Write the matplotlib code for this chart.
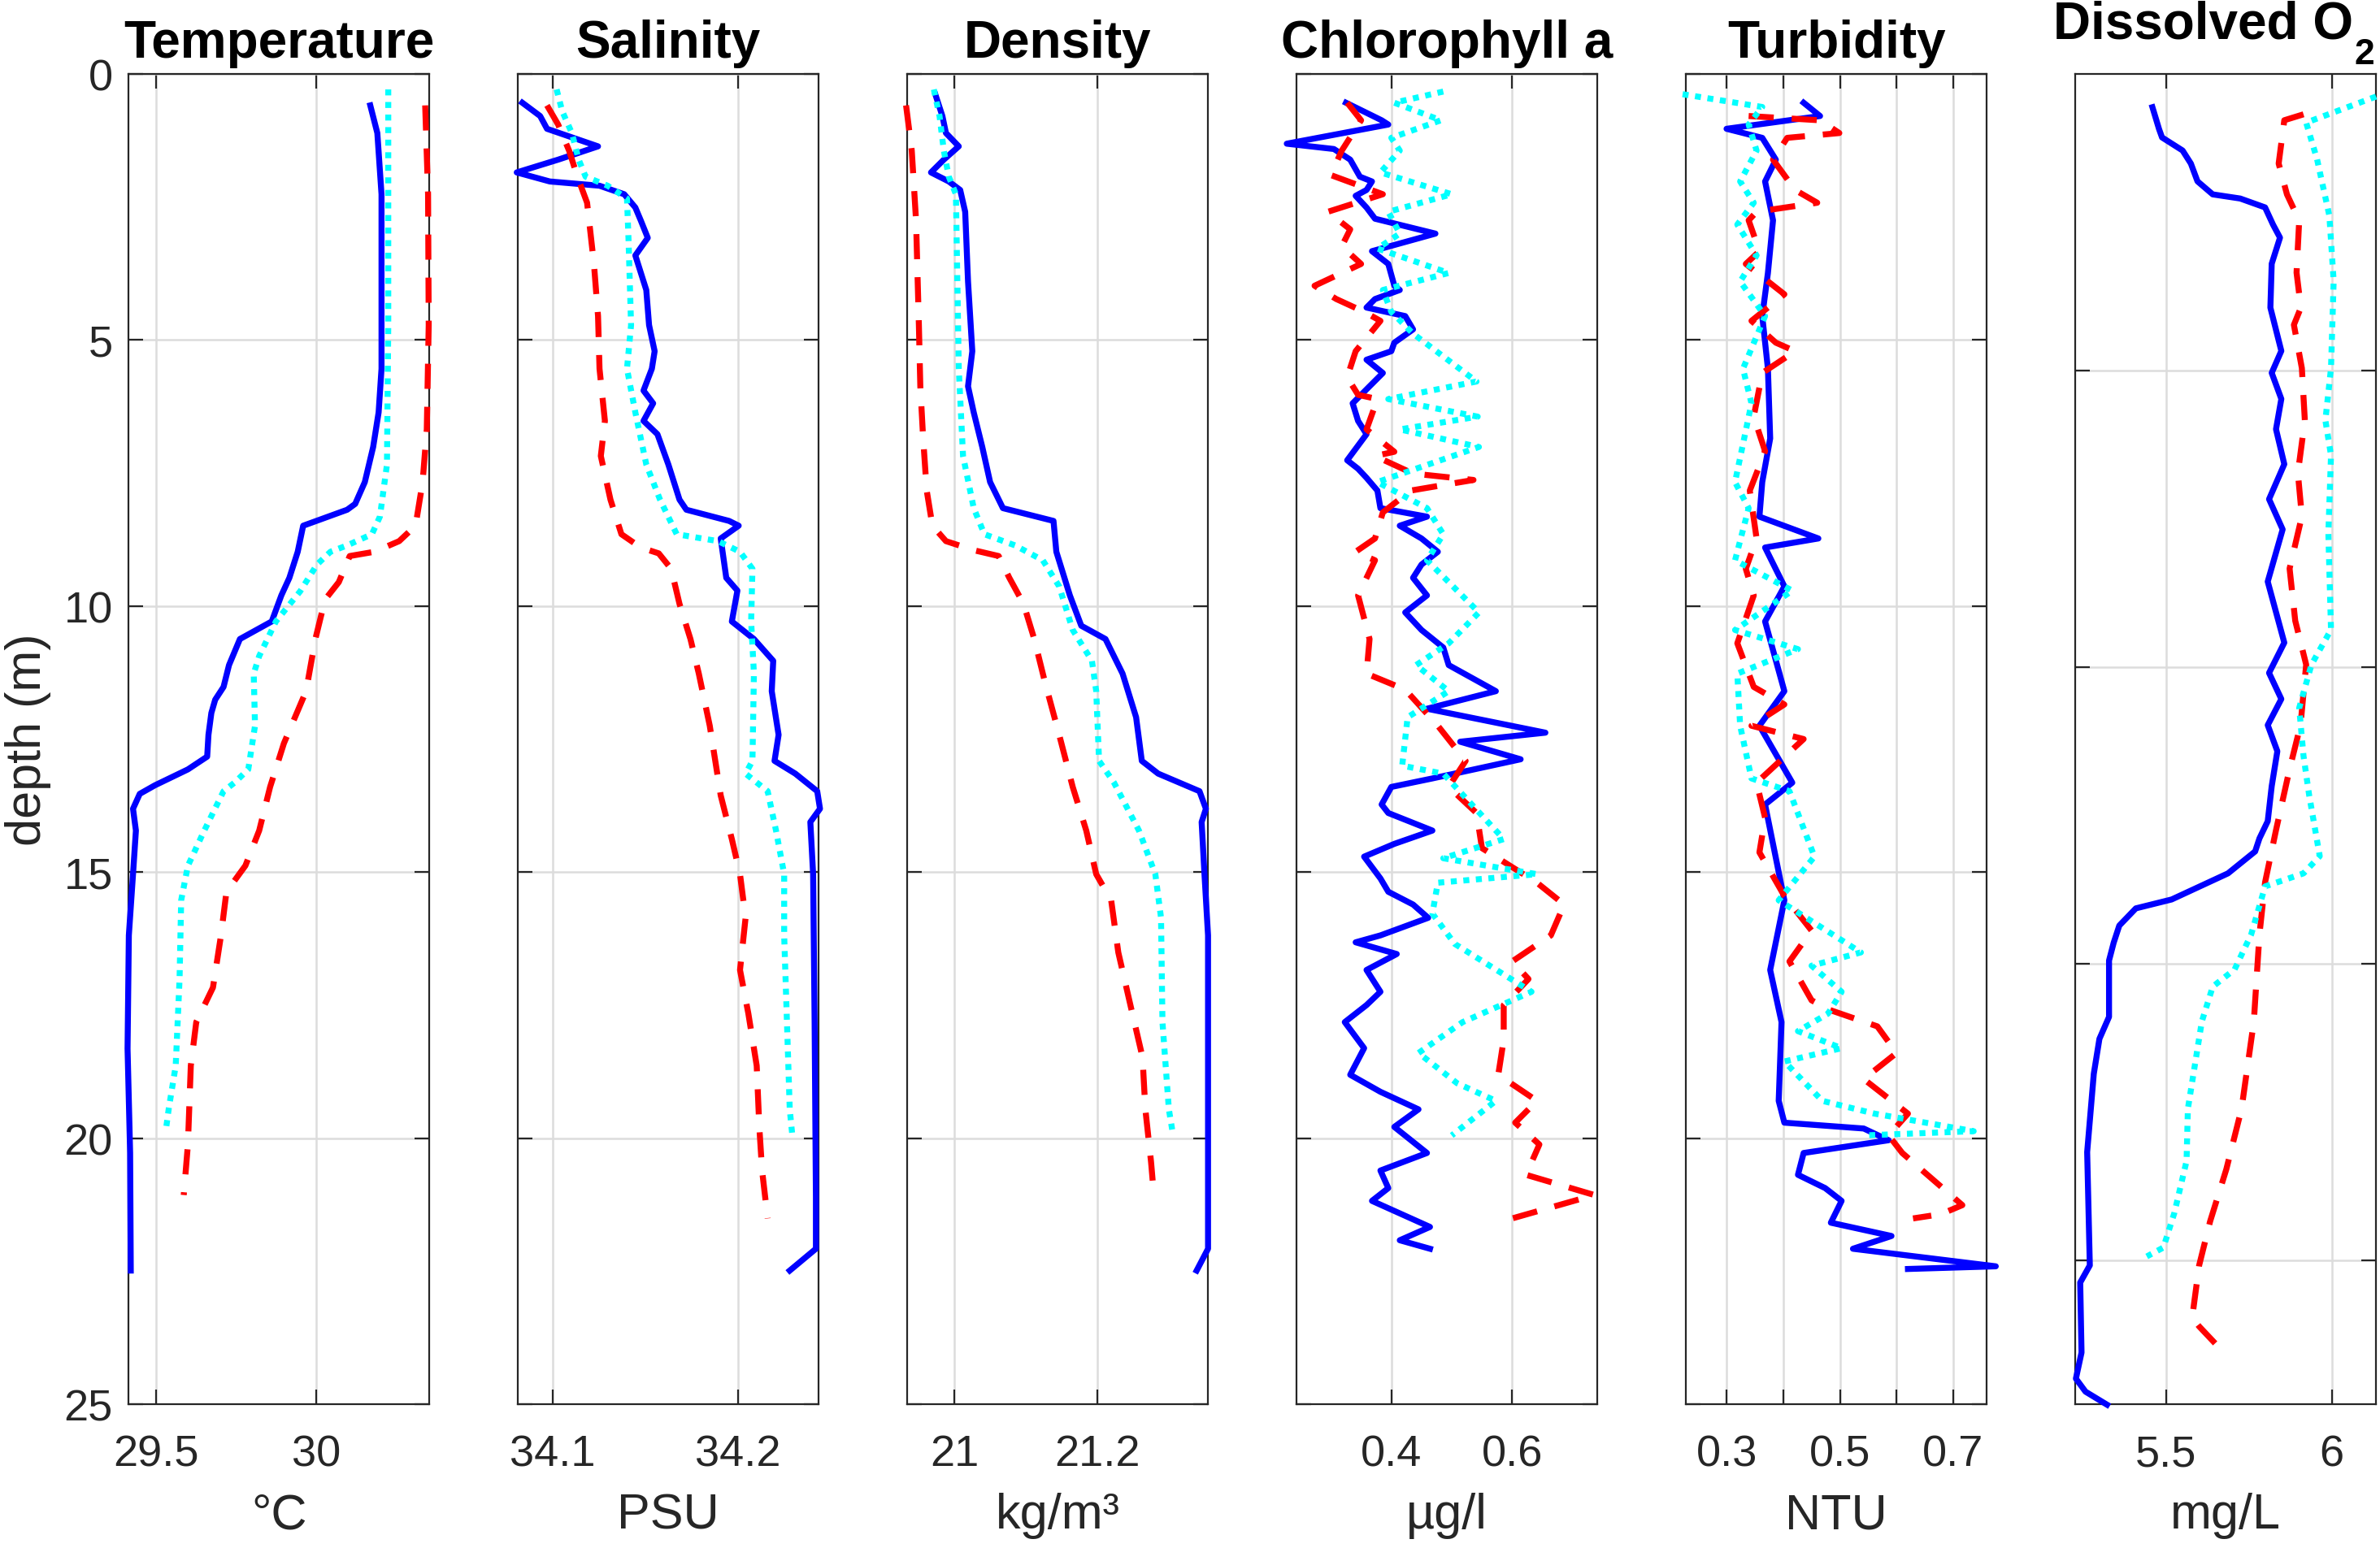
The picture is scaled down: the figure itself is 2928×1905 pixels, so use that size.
import numpy as np
import matplotlib
matplotlib.use("Agg")
import matplotlib.pyplot as plt
import matplotlib.transforms as mtransforms

plt.rcParams['font.family'] = ['Liberation Sans', 'DejaVu Sans']

# each series: (depth m, value) pairs, three casts per panel
temp_blue = [(0.59, 30.168), (1.11, 30.190), (2.26, 30.203), (4.72, 30.203), (5.54, 30.203), (6.36, 30.194),
             (7.01, 30.177), (7.67, 30.151), (8.08, 30.121), (8.19, 30.096), (8.49, 29.959), (8.98, 29.942),
             (9.47, 29.916), (9.80, 29.891), (10.29, 29.861), (10.62, 29.762), (11.11, 29.728), (11.52, 29.711),
             (11.76, 29.685), (12.01, 29.673), (12.42, 29.664), (12.83, 29.660), (13.07, 29.600), (13.37, 29.497),
             (13.53, 29.450), (13.81, 29.429), (14.22, 29.438), (15.04, 29.429), (16.19, 29.416), (18.32, 29.412),
             (20.28, 29.420), (22.49, 29.422)]
temp_red = [(0.59, 30.339), (2.26, 30.348), (4.72, 30.350), (6.68, 30.344), (7.67, 30.331), (8.49, 30.309),
            (8.78, 30.258), (8.98, 30.181), (9.06, 30.104), (9.55, 30.070), (9.88, 30.027), (10.62, 29.997),
            (11.60, 29.968), (12.58, 29.899), (13.40, 29.856), (14.22, 29.822), (14.88, 29.779), (15.37, 29.720),
            (16.19, 29.703), (17.17, 29.678), (17.82, 29.626), (18.64, 29.609), (20.12, 29.600), (21.07, 29.587)]
temp_cyan = [(0.29, 30.224), (1.44, 30.224), (4.72, 30.224), (7.34, 30.220), (8.32, 30.198), (8.65, 30.173),
             (8.86, 30.096), (8.98, 30.044), (9.22, 30.002), (9.72, 29.950), (10.29, 29.874), (10.94, 29.822),
             (11.27, 29.805), (12.25, 29.809), (13.07, 29.788), (13.32, 29.745), (13.48, 29.711), (14.22, 29.651),
             (14.88, 29.600), (15.53, 29.579), (17.01, 29.574), (18.64, 29.562), (19.46, 29.540), (19.82, 29.532)]

sal_blue = [(0.54, 34.0837), (0.79, 34.0933), (1.03, 34.0970), (1.36, 34.1245), (1.61, 34.1030), (1.85, 34.0807),
            (2.02, 34.0985), (2.10, 34.1253), (2.26, 34.1386), (2.51, 34.1446), (2.75, 34.1475), (3.08, 34.1513),
            (3.41, 34.1446), (4.06, 34.1505), (4.72, 34.1520), (5.21, 34.1550), (5.54, 34.1535), (5.95, 34.1490),
            (6.19, 34.1542), (6.52, 34.1490), (6.77, 34.1565), (7.34, 34.1624), (7.67, 34.1654), (8.00, 34.1684),
            (8.19, 34.1721), (8.40, 34.1951), (8.49, 34.2003), (8.73, 34.1906), (9.47, 34.1936), (9.71, 34.1996),
            (10.29, 34.1966), (10.62, 34.2085), (11.03, 34.2189), (11.60, 34.2181), (12.42, 34.2218),
            (12.91, 34.2196), (13.15, 34.2308), (13.48, 34.2426), (13.81, 34.2441), (14.06, 34.2389),
            (15.04, 34.2404), (17.82, 34.2412), (21.10, 34.2419), (22.08, 34.2419), (22.49, 34.2278)]
sal_red = [(0.59, 34.0970), (0.95, 34.1030), (1.44, 34.1089), (1.93, 34.1134), (2.42, 34.1186), (3.57, 34.1223),
           (4.55, 34.1245), (5.54, 34.1253), (6.52, 34.1282), (7.18, 34.1260), (8.00, 34.1312), (8.65, 34.1371),
           (8.90, 34.1475), (9.01, 34.1572), (9.30, 34.1639), (9.96, 34.1684), (10.62, 34.1743), (11.27, 34.1788),
           (12.25, 34.1847), (13.56, 34.1906), (14.38, 34.1966), (15.04, 34.2010), (15.86, 34.2040),
           (16.84, 34.2010), (17.66, 34.2055), (18.64, 34.2100), (19.79, 34.2114), (20.61, 34.2129), (21.51, 34.2159)]
sal_cyan = [(0.29, 34.1022), (0.70, 34.1052), (1.11, 34.1104), (1.61, 34.1141), (1.93, 34.1178), (2.10, 34.1297),
            (2.34, 34.1401), (3.08, 34.1409), (4.72, 34.1423), (5.54, 34.1401), (6.36, 34.1446), (7.34, 34.1505),
            (8.00, 34.1579), (8.65, 34.1669), (8.78, 34.1892), (8.98, 34.2010), (9.30, 34.2077), (10.29, 34.2070),
            (11.27, 34.2085), (12.91, 34.2077), (13.15, 34.2040), (13.48, 34.2159), (14.22, 34.2204),
            (15.04, 34.2248), (16.19, 34.2248), (17.82, 34.2263), (19.46, 34.2278), (19.99, 34.2293)]

dens_blue = [(0.38, 20.973), (0.79, 20.983), (1.11, 20.988), (1.36, 21.006), (1.61, 20.985), (1.85, 20.967),
             (2.02, 20.992), (2.18, 21.008), (2.59, 21.015), (3.90, 21.019), (5.21, 21.025), (5.87, 21.019),
             (6.36, 21.027), (7.01, 21.039), (7.67, 21.050), (8.16, 21.068), (8.40, 21.139), (8.98, 21.143),
             (9.80, 21.162), (10.37, 21.178), (10.62, 21.212), (11.27, 21.236), (12.09, 21.255), (12.91, 21.263),
             (13.15, 21.286), (13.48, 21.344), (13.81, 21.353), (14.06, 21.347), (15.04, 21.351), (16.19, 21.356),
             (19.46, 21.356), (22.08, 21.356), (22.49, 21.340)]
dens_red = [(0.59, 20.932), (1.44, 20.940), (2.75, 20.946), (4.72, 20.950), (5.87, 20.952), (6.85, 20.956),
            (7.83, 20.961), (8.49, 20.969), (8.78, 20.988), (8.95, 21.027), (9.06, 21.062), (9.47, 21.077),
            (9.96, 21.097), (10.62, 21.112), (11.43, 21.127), (12.42, 21.147), (13.40, 21.166), (14.22, 21.185),
            (15.04, 21.199), (15.53, 21.220), (16.51, 21.230), (17.50, 21.247), (18.48, 21.264), (19.46, 21.268),
            (20.45, 21.276), (21.07, 21.280)]
dens_cyan = [(0.29, 20.971), (0.79, 20.979), (1.44, 20.985), (1.93, 20.992), (2.26, 21.002), (3.90, 21.004),
             (5.54, 21.006), (7.18, 21.012), (8.16, 21.027), (8.65, 21.042), (8.86, 21.085), (9.14, 21.124),
             (9.63, 21.147), (10.45, 21.166), (11.03, 21.193), (11.60, 21.199), (12.91, 21.203), (13.32, 21.224),
             (14.22, 21.259), (15.04, 21.282), (15.86, 21.290), (17.82, 21.292), (19.46, 21.301), (19.95, 21.307)]

chl_blue = [(0.54, 0.325), (0.87, 0.384), (0.95, 0.395), (1.31, 0.227), (1.41, 0.305), (1.61, 0.332),
            (1.93, 0.348), (2.02, 0.368), (2.18, 0.359), (2.29, 0.341), (2.51, 0.359), (2.72, 0.373),
            (3.00, 0.473), (3.33, 0.368), (3.57, 0.395), (3.98, 0.405), (4.06, 0.414), (4.23, 0.373),
            (4.39, 0.359), (4.55, 0.423), (4.80, 0.436), (5.05, 0.405), (5.21, 0.400), (5.37, 0.359),
            (5.62, 0.386), (5.87, 0.364), (6.19, 0.336), (6.52, 0.345), (6.77, 0.359), (7.26, 0.327),
            (7.42, 0.345), (7.59, 0.359), (7.83, 0.377), (8.16, 0.382), (8.32, 0.459), (8.49, 0.414),
            (8.73, 0.450), (8.98, 0.477), (9.22, 0.450), (9.47, 0.436), (9.80, 0.459), (10.12, 0.423),
            (10.45, 0.450), (10.78, 0.486), (11.11, 0.495), (11.60, 0.573), (11.93, 0.459), (12.38, 0.655),
            (12.55, 0.514), (12.88, 0.614), (13.24, 0.468), (13.40, 0.400), (13.73, 0.384), (13.89, 0.395),
            (14.22, 0.468), (14.47, 0.405), (14.71, 0.355), (15.12, 0.382), (15.37, 0.395), (15.61, 0.436),
            (15.86, 0.461), (16.19, 0.382), (16.32, 0.341), (16.54, 0.409), (16.84, 0.359), (17.25, 0.382),
            (17.50, 0.359), (17.82, 0.323), (18.31, 0.355), (18.81, 0.332), (19.13, 0.382), (19.46, 0.445),
            (19.79, 0.405), (20.28, 0.459), (20.61, 0.382), (20.94, 0.395), (21.18, 0.368), (21.67, 0.464),
            (21.92, 0.414), (22.08, 0.464)]
chl_red = [(0.54, 0.327), (0.87, 0.350), (1.44, 0.318), (1.90, 0.300), (2.26, 0.386), (2.59, 0.295),
           (2.92, 0.332), (3.24, 0.318), (3.57, 0.350), (3.98, 0.273), (4.23, 0.309), (4.47, 0.355),
           (4.64, 0.382), (5.21, 0.341), (5.70, 0.327), (6.03, 0.345), (6.11, 0.377), (6.68, 0.359),
           (7.10, 0.405), (7.18, 0.373), (7.51, 0.436), (7.63, 0.536), (7.83, 0.432), (8.24, 0.386),
           (8.73, 0.373), (8.98, 0.341), (9.14, 0.373), (9.80, 0.345), (10.62, 0.364), (11.27, 0.359),
           (11.57, 0.423), (12.25, 0.477), (12.91, 0.523), (13.40, 0.495), (13.89, 0.541), (14.55, 0.550),
           (15.20, 0.641), (15.61, 0.686), (16.19, 0.664), (16.68, 0.600), (17.01, 0.627), (17.50, 0.586),
           (18.15, 0.586), (18.81, 0.577), (19.30, 0.641), (19.71, 0.605), (20.12, 0.645), (20.69, 0.623),
           (21.07, 0.736), (21.51, 0.600)]
chl_cyan = [(0.33, 0.486), (0.54, 0.405), (0.87, 0.482), (1.20, 0.400), (1.44, 0.414), (1.85, 0.382),
            (2.26, 0.500), (2.59, 0.395), (3.00, 0.414), (3.28, 0.377), (3.74, 0.495), (4.06, 0.386),
            (4.47, 0.400), (4.88, 0.436), (5.78, 0.541), (6.11, 0.395), (6.44, 0.543), (6.68, 0.414),
            (7.01, 0.545), (7.67, 0.377), (8.16, 0.459), (8.65, 0.486), (9.14, 0.459), (10.12, 0.545),
            (10.70, 0.495), (11.11, 0.441), (11.60, 0.495), (12.09, 0.427), (13.00, 0.418), (13.15, 0.486),
            (14.38, 0.586), (14.74, 0.486), (15.04, 0.641), (15.20, 0.477), (15.78, 0.468), (16.35, 0.505),
            (17.25, 0.632), (17.82, 0.518), (18.40, 0.445), (18.97, 0.509), (19.30, 0.573), (19.95, 0.500)]

turb_blue = [(0.54, 0.436), (0.79, 0.465), (1.03, 0.300), (1.20, 0.363), (1.61, 0.387), (2.02, 0.368),
             (2.75, 0.382), (3.74, 0.373), (4.55, 0.363), (5.54, 0.373), (6.85, 0.377), (7.67, 0.363),
             (8.32, 0.358), (8.73, 0.462), (8.90, 0.368), (9.63, 0.402), (10.29, 0.368), (11.60, 0.402),
             (12.25, 0.358), (13.32, 0.416), (13.73, 0.368), (15.53, 0.402), (16.84, 0.377), (17.82, 0.397),
             (19.30, 0.392), (19.71, 0.402), (19.82, 0.542), (20.04, 0.586), (20.28, 0.436), (20.69, 0.426),
             (20.94, 0.474), (21.18, 0.503), (21.59, 0.484), (21.84, 0.591), (22.08, 0.523), (22.41, 0.775),
             (22.46, 0.620)]
turb_red = [(0.79, 0.339), (0.87, 0.465), (1.11, 0.499), (1.20, 0.407), (1.61, 0.382), (2.18, 0.421),
            (2.42, 0.460), (2.59, 0.353), (2.75, 0.339), (3.33, 0.358), (3.57, 0.334), (4.14, 0.402),
            (4.64, 0.344), (5.05, 0.387), (5.21, 0.421), (5.62, 0.363), (6.44, 0.348), (7.09, 0.368),
            (7.83, 0.341), (8.73, 0.353), (9.30, 0.334), (9.80, 0.348), (10.70, 0.319), (11.52, 0.348),
            (11.85, 0.402), (12.25, 0.344), (12.50, 0.436), (13.32, 0.353), (13.98, 0.368), (14.63, 0.358),
            (15.45, 0.402), (16.10, 0.450), (16.68, 0.411), (17.41, 0.450), (17.58, 0.479), (17.90, 0.566),
            (18.40, 0.600), (18.89, 0.542), (19.54, 0.620), (19.95, 0.586), (20.28, 0.610), (20.77, 0.663),
            (21.26, 0.716), (21.43, 0.678), (21.51, 0.629)]
turb_cyan = [(0.38, 0.2225), (0.62, 0.363), (0.95, 0.339), (1.44, 0.353), (2.02, 0.324), (2.42, 0.348),
             (2.83, 0.319), (3.41, 0.353), (3.90, 0.324), (4.55, 0.368), (5.54, 0.329), (6.19, 0.344),
             (7.67, 0.315), (8.16, 0.339), (9.14, 0.315), (9.71, 0.416), (10.45, 0.315), (10.81, 0.426),
             (11.27, 0.319), (12.25, 0.324), (13.24, 0.344), (13.48, 0.411), (14.71, 0.455), (15.53, 0.392),
             (16.51, 0.537), (16.76, 0.450), (17.25, 0.503), (17.66, 0.479), (17.99, 0.426), (18.31, 0.503),
             (18.56, 0.402), (19.30, 0.469), (19.54, 0.561), (19.87, 0.736), (19.95, 0.542)]

# dissolved O2 panel has its own depth scale (ticks 5..20 sit lower)
do_blue = [(0.56, 5.459), (0.93, 5.479), (1.07, 5.488), (1.29, 5.550), (1.51, 5.575), (1.81, 5.595),
           (2.03, 5.641), (2.10, 5.724), (2.25, 5.799), (2.54, 5.823), (2.76, 5.844), (3.20, 5.819),
           (3.94, 5.815), (4.67, 5.848), (5.04, 5.819), (5.48, 5.848), (5.99, 5.832), (6.58, 5.857),
           (7.17, 5.811), (7.68, 5.852), (8.56, 5.807), (9.59, 5.857), (10.10, 5.811), (10.54, 5.848),
           (10.98, 5.807), (11.42, 5.836), (12.01, 5.819), (12.60, 5.807), (12.89, 5.782), (13.11, 5.769),
           (13.48, 5.687), (13.92, 5.517), (14.07, 5.409), (14.36, 5.359), (14.65, 5.342), (14.95, 5.328),
           (15.90, 5.328), (16.27, 5.299), (16.86, 5.282), (18.18, 5.262), (20.09, 5.270), (20.38, 5.241),
           (21.56, 5.245), (22.00, 5.228), (22.22, 5.257), (22.44, 5.322)]
do_red = [(0.68, 5.915), (0.78, 5.857), (1.51, 5.840), (2.03, 5.865), (2.47, 5.902), (3.35, 5.894),
          (3.94, 5.907), (4.23, 5.886), (4.96, 5.910), (5.84, 5.919), (6.73, 5.898), (7.46, 5.910),
          (8.34, 5.873), (9.22, 5.890), (9.96, 5.923), (10.98, 5.906), (11.72, 5.873), (12.75, 5.832),
          (13.63, 5.799), (14.51, 5.782), (15.98, 5.765), (17.45, 5.728), (18.47, 5.682), (19.35, 5.633),
          (20.09, 5.600), (20.97, 5.579), (21.12, 5.600), (21.41, 5.649)]
do_cyan = [(0.38, 6.134), (0.82, 5.923), (1.44, 5.956), (2.39, 5.993), (3.49, 6.006), (4.96, 5.998),
           (5.84, 5.981), (6.43, 5.998), (7.75, 5.990), (9.37, 5.998), (9.96, 5.939), (10.69, 5.902),
           (11.50, 5.915), (12.16, 5.932), (13.19, 5.964), (13.48, 5.915), (13.70, 5.799), (14.51, 5.757),
           (15.10, 5.707), (15.39, 5.641), (15.98, 5.608), (17.45, 5.566), (18.33, 5.562), (19.21, 5.525),
           (19.79, 5.492), (19.94, 5.442)]

titles = ['Temperature', 'Salinity', 'Density', 'Chlorophyll a', 'Turbidity', 'Dissolved O']
units = ['°C', 'PSU', 'kg/m³', 'µg/l', 'NTU', 'mg/L']
xlims = [(29.415, 30.352), (34.0813, 34.2434), (20.9336, 21.356), (0.2432, 0.741), (0.2283, 0.759), (5.226, 6.134)]
xticks = [[29.5, 30], [34.1, 34.2], [21, 21.2], [0.4, 0.6], [0.3, 0.4, 0.5, 0.6, 0.7], [5.5, 6]]
xticklabels = [['29.5', '30'], ['34.1', '34.2'], ['21', '21.2'], ['0.4', '0.6'],
               ['0.3', '', '0.5', '', '0.7'], ['5.5', '6']]
series = [(temp_blue, temp_red, temp_cyan), (sal_blue, sal_red, sal_cyan), (dens_blue, dens_red, dens_cyan),
          (chl_blue, chl_red, chl_cyan), (turb_blue, turb_red, turb_cyan), (do_blue, do_red, do_cyan)]
ymax = [25, 25, 25, 25, 25, 22.43]

dark = '#262626'
fig = plt.figure(figsize=(29.28, 19.06), dpi=100)
left0, step, w = 0.0540, 0.16359, 0.1264
bot, h = 0.0929, 0.8588

for i in range(6):
    ax = fig.add_axes([left0 + i * step, bot, w, h])
    b, r, c = [np.array(s) for s in series[i]]
    lw = 5.3
    ax.plot(b[:, 1], b[:, 0], '-', color='#0000ff', lw=lw, clip_on=False, zorder=3)
    ax.plot(r[:, 1], r[:, 0], '--', color='#ff0000', lw=lw, dashes=(4.2, 3.0), clip_on=False, zorder=3)
    ax.plot(c[:, 1], c[:, 0], ':', color='#00ffff', lw=lw, dashes=(1.0, 1.1), clip_on=False, zorder=3)

    ax.set_xlim(*xlims[i])
    ax.set_ylim(ymax[i], 0)
    ax.set_xticks(xticks[i])
    ax.set_xticklabels(xticklabels[i])
    if i == 0:
        ax.set_yticks([0, 5, 10, 15, 20, 25])
        ax.set_yticklabels(['0', '5', '10', '15', '20', '25'])
        ax.set_ylabel('depth (m)', fontsize=44, color=dark, labelpad=11)
    elif i < 5:
        ax.set_yticks([0, 5, 10, 15, 20, 25])
        ax.set_yticklabels([])
    else:
        ax.set_yticks([5, 10, 15, 20])
        ax.set_yticklabels([])
    ax.tick_params(axis='both', direction='in', length=13, width=1.6, color=dark,
                   labelcolor=dark, labelsize=39, top=True, right=True)
    ax.tick_params(axis='x', pad=26)
    ax.tick_params(axis='y', pad=14)
    ax.grid(True, color='#dcdcdc', lw=1.8, zorder=0)
    ax.set_axisbelow(True)
    for sp in ax.spines.values():
        sp.set_linewidth(1.6)
        sp.set_color(dark)
    ax.set_xlabel(units[i], fontsize=44, color=dark, labelpad=16)

    if i < 5:
        ax.set_title(titles[i], fontsize=46, fontweight='bold', color='black', pad=15)
    else:
        # MATLAB-style title with a deep subscript, kept inside the figure edge
        blend = mtransforms.blended_transform_factory(fig.transFigure, ax.transAxes)
        tr = mtransforms.offset_copy(blend, fig=fig, y=32, units='points')
        t = ax.text(0.9888, 1.0, titles[i], transform=tr, ha='right', va='baseline',
                    fontsize=46, fontweight='bold', color='black')
        ax.annotate('2', xy=(1, 0), xycoords=t, xytext=(1.0, -13), textcoords='offset points',
                    ha='left', va='baseline', fontsize=32, fontweight='bold', color='black',
                    annotation_clip=False)

fig.savefig('out.png', dpi=100)
